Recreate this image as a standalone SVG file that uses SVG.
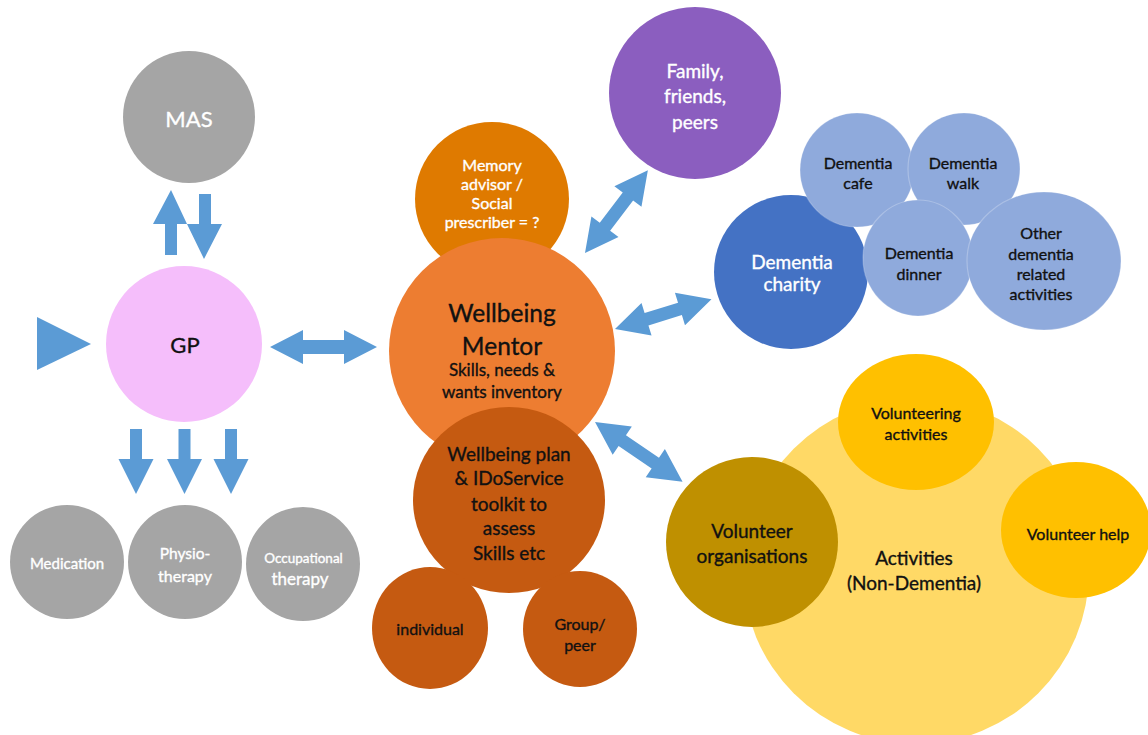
<svg xmlns="http://www.w3.org/2000/svg" width="1148" height="735" viewBox="0 0 1148 735">
<style>
text{font-family:Lato,"Liberation Sans",sans-serif;text-anchor:middle;dominant-baseline:central}
.w{fill:#ffffff;stroke:#ffffff;stroke-width:0.35}
.k{fill:#111111;stroke:#111111;stroke-width:0.35}
.arrow{fill:#5B9BD5}
.grey{fill:#A5A5A5}
.lb{fill:#8FAADC;stroke:#ffffff;stroke-opacity:0.25;stroke-width:1.2}
.dk{fill:#C55A11}
.yl{fill:#FFC000}
</style>
<rect width="1148" height="735" fill="#ffffff"/>

<g id="mas"><circle cx="189" cy="117" r="66" class="grey"/><text x="189" y="118" font-size="22" class="w">MAS</text></g>
<g id="gp"><circle cx="184" cy="344" r="78" fill="#F5BEFB"/><text x="185" y="344" font-size="22" class="k">GP</text></g>
<g id="medication"><circle cx="67" cy="562" r="57" class="grey"/><text x="67" y="563" font-size="15" class="w">Medication</text></g>
<g id="physio"><circle cx="185" cy="562" r="57" class="grey"/><text x="185" y="553" font-size="15.5" class="w">Physio-</text><text x="185" y="575" font-size="16" class="w">therapy</text></g>
<g id="occupational"><circle cx="303" cy="564" r="57" class="grey"/><text x="303.5" y="558" font-size="13.5" class="w">Occupational</text><text x="300" y="578" font-size="17" class="w">therapy</text></g>

<g id="memory"><circle cx="492" cy="199" r="77" fill="#DF7A00"/>
<text x="492" y="164" font-size="16" class="w">Memory</text>
<text x="492" y="183" font-size="16" class="w">advisor /</text>
<text x="492" y="202" font-size="16" class="w">Social</text>
<text x="492" y="221" font-size="16" class="w">prescriber = ?</text></g>
<g id="mentor"><circle cx="502" cy="351" r="113" fill="#ED7D31"/>
<text x="502" y="312" font-size="24.5" class="k">Wellbeing</text>
<text x="502" y="345" font-size="24.5" class="k">Mentor</text>
<text x="502" y="369" font-size="17" class="k">Skills, needs &amp;</text>
<text x="502" y="391" font-size="17" class="k">wants inventory</text></g>
<g id="plan"><ellipse cx="509" cy="500" rx="96" ry="93" class="dk"/>
<text x="509" y="453" font-size="19" class="k">Wellbeing plan</text>
<text x="509" y="477" font-size="19" class="k">&amp; IDoService</text>
<text x="509" y="503" font-size="19" class="k">toolkit to</text>
<text x="509" y="527" font-size="19" class="k">assess</text>
<text x="509" y="552" font-size="19" class="k">Skills etc</text></g>
<g id="individual"><ellipse cx="430" cy="628" rx="58" ry="61" class="dk"/><text x="430" y="628" font-size="16" class="k">individual</text></g>
<g id="group"><ellipse cx="580" cy="629" rx="57" ry="58" class="dk"/><text x="580" y="623" font-size="16" class="k">Group/</text><text x="580" y="644" font-size="16" class="k">peer</text></g>

<g id="family"><circle cx="695" cy="93" r="86" fill="#8B5EBF"/>
<text x="695" y="70" font-size="19" class="w">Family,</text>
<text x="695" y="95" font-size="19" class="w">friends,</text>
<text x="695" y="121" font-size="19" class="w">peers</text></g>

<g id="charity"><circle cx="791" cy="272" r="77" fill="#4472C4"/><text x="792" y="261" font-size="19" class="w">Dementia</text><text x="792" y="283" font-size="19" class="w">charity</text></g>
<g id="cafe"><circle cx="857" cy="170" r="57" class="lb"/><text x="858" y="162" font-size="16" class="k">Dementia</text><text x="858" y="182" font-size="16" class="k">cafe</text></g>
<g id="walk"><circle cx="964" cy="169" r="56" class="lb"/><text x="963" y="162" font-size="16" class="k">Dementia</text><text x="963" y="182" font-size="16" class="k">walk</text></g>
<g id="dinner"><ellipse cx="918" cy="258" rx="55" ry="58" class="lb"/><text x="919" y="252" font-size="16" class="k">Dementia</text><text x="919" y="273" font-size="16" class="k">dinner</text></g>
<g id="other"><ellipse cx="1044" cy="261" rx="77" ry="69" class="lb"/>
<text x="1041" y="232" font-size="16" class="k">Other</text>
<text x="1041" y="253" font-size="16" class="k">dementia</text>
<text x="1041" y="273" font-size="16" class="k">related</text>
<text x="1041" y="293" font-size="16" class="k">activities</text></g>

<g id="activities"><circle cx="916" cy="571" r="173" fill="#FFD966"/><text x="914" y="557" font-size="19" class="k">Activities</text><text x="914" y="582" font-size="19" class="k">(Non-Dementia)</text></g>
<g id="volunteering"><ellipse cx="916" cy="422" rx="78" ry="68" class="yl"/><text x="916" y="412" font-size="16" class="k">Volunteering</text><text x="916" y="433" font-size="16" class="k">activities</text></g>
<g id="volhelp"><ellipse cx="1076" cy="530" rx="75" ry="68" class="yl"/><text x="1078" y="533" font-size="16" class="k">Volunteer help</text></g>
<g id="volorgs"><ellipse cx="752" cy="542" rx="86" ry="85" fill="#BF9000"/><text x="752" y="530" font-size="19" class="k">Volunteer</text><text x="752" y="555" font-size="19" class="k">organisations</text></g>

<g id="connectors" class="arrow">
<polygon points="171,190 187,224 177,224 177,255 165,255 165,224 153,224"/>
<polygon points="199,194 211,194 211,224 222,224 204,259 187,224 199,224"/>
<polygon points="37,317 91,344 37,370"/>
<polygon points="130,429 142,429 142,459 153.5,459 136,494 118.5,459 130,459"/>
<polygon points="178.5,429 190.5,429 190.5,459 202,459 184.5,494 167,459 178.5,459"/>
<polygon points="225,429 237,429 237,459 248.5,459 231,494 213.5,459 225,459"/>
<path transform="translate(270,347)" d="M0,0 L33,-17 L33,-7 L74,-7 L74,-17 L107,0 L74,17 L74,7 L33,7 L33,17 Z"/>
<path transform="translate(585,253) rotate(-52.8)" d="M0,0 L33,-17 L33,-6.5 L71,-6.5 L71,-17 L104,0 L71,17 L71,6.5 L33,6.5 L33,17 Z"/>
<path transform="translate(615,329) rotate(-17.2)" d="M0,0 L33,-17 L33,-6.5 L68,-6.5 L68,-17 L101,0 L68,17 L68,6.5 L33,6.5 L33,17 Z"/>
<path transform="translate(595,422) rotate(34.3)" d="M0,0 L33,-17 L33,-6.5 L73,-6.5 L73,-17 L106,0 L73,17 L73,6.5 L33,6.5 L33,17 Z"/>
</g>
</svg>
